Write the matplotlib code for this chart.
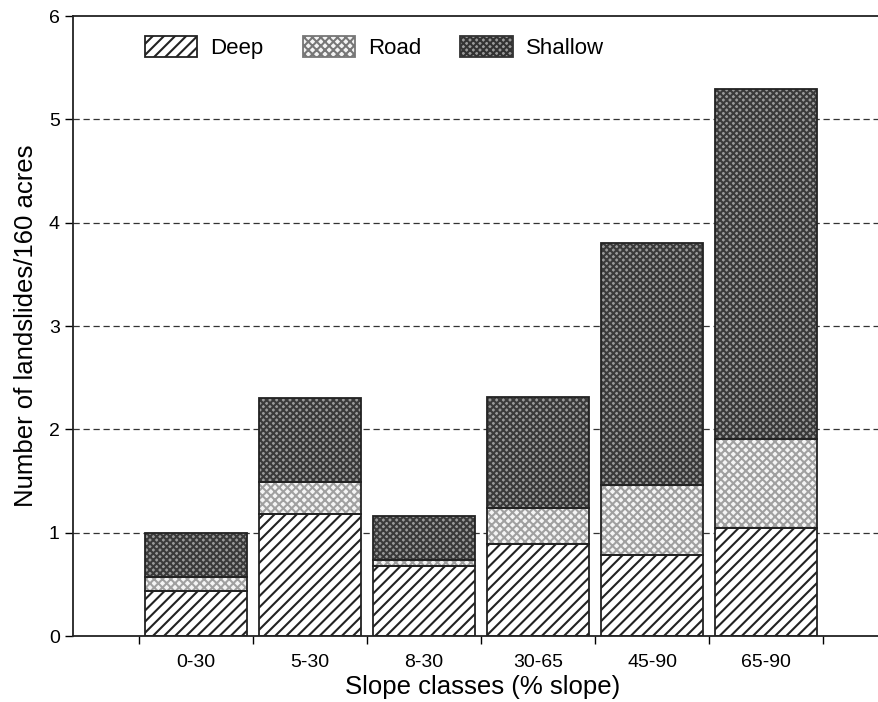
import matplotlib
matplotlib.use("Agg")
import matplotlib.pyplot as plt
import numpy as np
from matplotlib.patches import Patch

plt.rcParams['font.family'] = ['Liberation Sans', 'DejaVu Sans']
plt.rcParams['hatch.linewidth'] = 1.5

# dane
klasy = ["0-30", "5-30", "8-30", "30-65", "45-90", "65-90"]
deep = [0.44, 1.18, 0.68, 0.89, 0.78, 1.05]
road = [0.13, 0.31, 0.06, 0.35, 0.68, 0.86]
shallow = [0.43, 0.81, 0.42, 1.07, 2.34, 3.38]

x = np.arange(len(klasy))
deep = np.array(deep)
road = np.array(road)
shallow = np.array(shallow)
szer = 0.895

fig = plt.figure(figsize=(8.79, 7.02), dpi=100)
ax = fig.add_axes([0.083, 0.094, 0.917, 0.883])

# Deep - ukosne kreski
ax.bar(x, deep, szer, color="white", edgecolor="#222222", hatch="///", linewidth=0)
# Road - jasne kropki
ax.bar(x, road, szer, bottom=deep, color="#f4f4f4", edgecolor="#a0a0a0", hatch="xxxx", linewidth=0)
# Shallow - ciemne kropki
ax.bar(x, shallow, szer, bottom=deep + road, color="#9a9a9a", edgecolor="#3a3a3a", hatch="xxxxx", linewidth=0)
# obrysy
for dol, h in [(0, deep), (deep, road), (deep + road, shallow)]:
    ax.bar(x, h, szer, bottom=dol, fill=False, edgecolor="#222222", linewidth=1.3)

# siatka przerywana
for yy in [1, 2, 3, 4, 5]:
    ax.axhline(yy, color="#333333", linestyle=(0, (5, 3)), linewidth=0.9, zorder=0.5)

ax.set_xlim(-1.08, 5.99)
ax.set_ylim(0, 6)
ax.set_yticks([0, 1, 2, 3, 4, 5, 6])
ax.set_xticks(np.arange(-0.5, 6.0, 1.0))
ax.set_xticklabels([])
ax.set_xticks(x, minor=True)
ax.set_xticklabels(klasy, minor=True, fontsize=14)
ax.tick_params(axis="x", which="minor", length=0, pad=13)
ax.tick_params(axis="x", which="major", length=6, direction="out", width=1)
ax.tick_params(axis="y", length=6, direction="out", width=1, labelsize=14)
ax.spines["right"].set_visible(False)
for s in ["left", "bottom", "top"]:
    ax.spines[s].set_linewidth(1.3)
    ax.spines[s].set_color("#222222")

ax.set_xlabel("Slope classes (% slope)", fontsize=18.5)
ax.xaxis.set_label_coords(0.508, -0.063)
ax.set_ylabel("Number of landslides/160 acres", fontsize=18.5, labelpad=8)

uchwyty = [
    Patch(facecolor="white", edgecolor="#222222", hatch="///", linewidth=1.3, label="Deep"),
    Patch(facecolor="#f4f4f4", edgecolor="#777777", hatch="xxxx", linewidth=1.3, label="Road"),
    Patch(facecolor="#9a9a9a", edgecolor="#333333", hatch="xxxxx", linewidth=1.3, label="Shallow"),
]
ax.legend(handles=uchwyty, loc="upper left", bbox_to_anchor=(0.0893, 0.968), ncol=3, frameon=False,
          fontsize=16, handlelength=2.35, handleheight=1.1, columnspacing=1.75, handletextpad=0.6,
          borderpad=0, borderaxespad=0)

plt.savefig("out.png", dpi=100)
